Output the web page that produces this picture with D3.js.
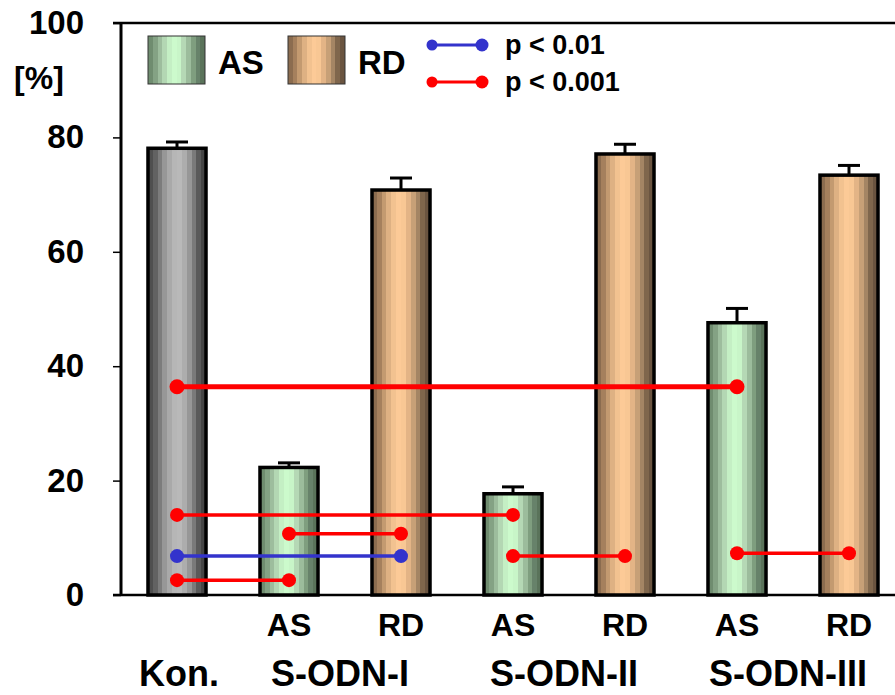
<!DOCTYPE html>
<html>
<head>
<meta charset="utf-8">
<script src="https://cdn.jsdelivr.net/npm/d3@7"></script>
<style>
  body { margin: 0; background: #fff; }
  svg { font-family: "Liberation Sans", Arial, sans-serif; font-weight: bold; }
</style>
</head>
<body>
<svg width="895" height="695"></svg>
<script>
// bars
const barKeys = ["Kon", "AS-I", "RD-I", "AS-II", "RD-II", "AS-III", "RD-III"];
const barTypes = ["Kon", "AS", "RD", "AS", "RD", "AS", "RD"];
const barValues = [78.1, 22.3, 70.8, 17.7, 77.1, 47.6, 73.4];
const barErrors = [1.1, 0.8, 2.1, 1.2, 1.7, 2.5, 1.7];
const subLabels = ["", "AS", "RD", "AS", "RD", "AS", "RD"];

// group labels and the bars they span
const groupLabels = ["Kon.", "S-ODN-I", "S-ODN-II", "S-ODN-III"];
const groupFirst = ["Kon", "AS-I", "AS-II", "AS-III"];
const groupLast = ["Kon", "RD-I", "RD-II", "RD-III"];

// significance brackets
const sigFrom = ["Kon", "Kon", "AS-I", "Kon", "Kon", "AS-II", "AS-III"];
const sigTo = ["AS-III", "AS-II", "RD-I", "RD-I", "AS-I", "RD-II", "RD-III"];
const sigValues = [36.4, 14.0, 10.7, 6.8, 2.6, 6.8, 7.3];
const sigLevels = ["p < 0.001", "p < 0.001", "p < 0.001", "p < 0.01", "p < 0.001", "p < 0.001", "p < 0.001"];

const yTicks = [0, 20, 40, 60, 80, 100];
const legendBars = ["AS", "RD"];
const legendSig = ["p < 0.01", "p < 0.001"];

const svg = d3.select("svg");
const plotLeft = 121, plotBottom = 595, plotTop = 23;

const x = d3.scaleBand().domain(barKeys).range([plotLeft, plotLeft + 7 * 112])
    .paddingInner(0.482).paddingOuter(0.241);
const y = d3.scaleLinear().domain([0, 100]).range([plotBottom, plotTop]);

const sigColor = d3.scaleOrdinal().domain(legendSig).range(["#3333cc", "#ff0000"]);

// striped cylinder-like fills
const stripes = {
    Kon: ["#4f4f4f", "#626262", "#7c7c7c", "#979797", "#a9a9a9", "#b6b6b6", "#b9b9b9", "#adadad", "#979797", "#7a7a7a", "#5a5a5a", "#454545"],
    AS: ["#6f8c6f", "#84a284", "#9dbd9d", "#b3d7b3", "#c4efc4", "#ccfacc", "#c8f5c8", "#b5d8b5", "#9cbc9c", "#7f9e7f", "#67826a", "#5a735a"],
    RD: ["#8b6c4f", "#a5805d", "#c39a70", "#deb183", "#f2c290", "#fcca97", "#f8c794", "#e3b486", "#c7a077", "#a48564", "#7f664c", "#6a5440"]
};
const defs = svg.append("defs");
Object.keys(stripes).forEach(k => {
    const cols = stripes[k];
    const g = defs.append("linearGradient").attr("id", "grad-" + k)
        .attr("x1", "0%").attr("x2", "100%").attr("y1", "0%").attr("y2", "0%");
    cols.forEach((c, i) => {
        g.append("stop").attr("offset", (i / cols.length * 100) + "%").attr("stop-color", c);
        g.append("stop").attr("offset", ((i + 1) / cols.length * 100) + "%").attr("stop-color", c);
    });
});

// axes frame
svg.append("line").attr("x1", 113).attr("x2", 895).attr("y1", plotTop).attr("y2", plotTop)
    .attr("stroke", "#000").attr("stroke-width", 2.5);
svg.append("line").attr("x1", 113).attr("x2", 895).attr("y1", plotBottom).attr("y2", plotBottom)
    .attr("stroke", "#000").attr("stroke-width", 2.5);

const yAxis = svg.append("g").attr("transform", `translate(${plotLeft},0)`)
    .call(d3.axisLeft(y).tickValues(yTicks).tickSize(8).tickPadding(29));
yAxis.select(".domain").attr("stroke-width", 3).attr("d", `M0,${plotTop}V${plotBottom}`);
yAxis.selectAll(".tick line").attr("stroke-width", 1.5);
yAxis.selectAll(".tick text").attr("font-size", 33).attr("font-weight", "bold")
    .attr("font-family", "Liberation Sans, Arial, sans-serif").attr("fill", "#000");

svg.append("text").attr("x", 39).attr("y", 89).attr("text-anchor", "middle")
    .attr("font-size", 32).text("[%]");

// bars
const bars = svg.append("g");
bars.selectAll("rect").data(barKeys).join("rect")
    .attr("x", d => x(d))
    .attr("y", (d, i) => y(barValues[i]))
    .attr("width", x.bandwidth())
    .attr("height", (d, i) => plotBottom - y(barValues[i]))
    .attr("fill", (d, i) => `url(#grad-${barTypes[i]})`)
    .attr("stroke", "#000").attr("stroke-width", 3.5);

// error bars
const err = svg.append("g").attr("stroke", "#000").attr("stroke-width", 3);
err.selectAll(".stem").data(barKeys).join("line").attr("class", "stem")
    .attr("x1", d => x(d) + x.bandwidth() / 2).attr("x2", d => x(d) + x.bandwidth() / 2)
    .attr("y1", (d, i) => y(barValues[i])).attr("y2", (d, i) => y(barValues[i] + barErrors[i]));
err.selectAll(".cap").data(barKeys).join("line").attr("class", "cap")
    .attr("x1", d => x(d) + x.bandwidth() / 2 - 11).attr("x2", d => x(d) + x.bandwidth() / 2 + 11)
    .attr("y1", (d, i) => y(barValues[i] + barErrors[i])).attr("y2", (d, i) => y(barValues[i] + barErrors[i]));

// significance lines
const cx = k => x(k) + x.bandwidth() / 2;
const sig = svg.append("g");
sigFrom.forEach((f, i) => {
    const col = sigColor(sigLevels[i]);
    const yy = y(sigValues[i]);
    sig.append("line").attr("x1", cx(f)).attr("x2", cx(sigTo[i])).attr("y1", yy).attr("y2", yy)
        .attr("stroke", col).attr("stroke-width", i === 0 ? 5 : 3.5);
    [f, sigTo[i]].forEach(k => {
        sig.append("circle").attr("cx", cx(k)).attr("cy", yy).attr("r", i === 0 ? 7.5 : 7).attr("fill", col);
    });
});

// x labels
svg.append("g").selectAll("text").data(barKeys).join("text")
    .attr("x", d => cx(d)).attr("y", 636).attr("text-anchor", "middle")
    .attr("font-size", 32).text((d, i) => subLabels[i]);
svg.append("g").selectAll("text").data(groupLabels).join("text")
    .attr("x", (d, i) => (cx(groupFirst[i]) + cx(groupLast[i])) / 2 + (groupFirst[i] === groupLast[i] ? 2 : -5))
    .attr("y", 686).attr("text-anchor", "middle")
    .attr("font-size", 36).text(d => d);

// legend: bar swatches
const lg = svg.append("g");
legendBars.forEach((k, i) => {
    const lx = 148 + i * 140;
    lg.append("rect").attr("x", lx).attr("y", 36).attr("width", 57).attr("height", 48)
        .attr("fill", `url(#grad-${k})`).attr("stroke", "#333").attr("stroke-width", 1);
    lg.append("text").attr("x", lx + 70).attr("y", 74).attr("font-size", 33).text(k);
});
// legend: significance
legendSig.forEach((k, i) => {
    const ly = 45 + i * 37;
    lg.append("line").attr("x1", 432).attr("x2", 483).attr("y1", ly).attr("y2", ly)
        .attr("stroke", sigColor(k)).attr("stroke-width", 3);
    lg.append("circle").attr("cx", 432).attr("cy", ly).attr("r", 5.5).attr("fill", sigColor(k));
    lg.append("circle").attr("cx", 482).attr("cy", ly).attr("r", 6.5).attr("fill", sigColor(k));
    lg.append("text").attr("x", 505).attr("y", ly + 9).attr("font-size", 27).text(k);
});
</script>
</body>
</html>
